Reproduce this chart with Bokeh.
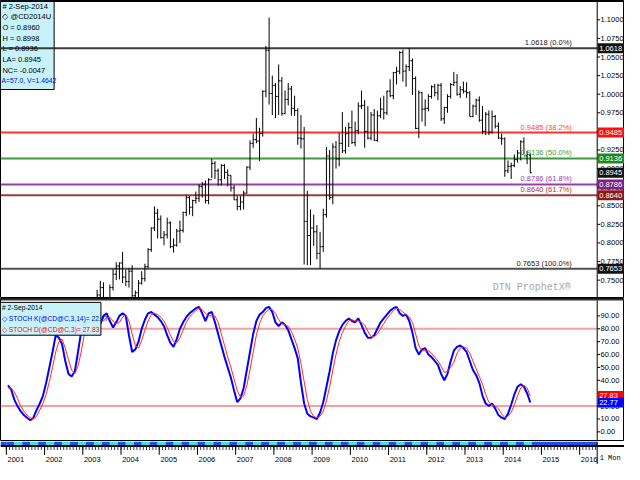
import numpy as np
from bokeh.plotting import figure
from bokeh.models import Range1d, Span
from bokeh.layouts import column
from bokeh.embed import file_html
from bokeh.resources import INLINE
from bokeh.core.properties import value

FONT = "Liberation Sans"
MONO = "Liberation Mono"

# ---------------- data ----------------
price_start_year = 2003  # monthly bars, Jan 2003 .. Sep 2014
price_open = [
    .6340, .6560, .6720, .6800, .6970, .7300, .7400, .7110, .7200, .7400, .7580, .7690,
    .7730, .7540, .7480, .7620, .7290, .7330, .7460, .7520, .7680, .7910, .8200, .8400,
    .8320, .8070, .8110, .8270, .7950, .7970, .8160, .8170, .8410, .8610, .8480, .8570,
    .8600, .8760, .8790, .8570, .8850, .9070, .8970, .8850, .9040, .8950, .8910, .8740,
    .8580, .8490, .8550, .8670, .9020, .9340, .9390, .9370, .9470, 1.0040, 1.0590, 1.0010,
    1.0120, .9970, 1.0180, .9740, .9930, 1.0070, .9810, .9780, .9410, .9400, .8290, .8100,
    .8200, .8150, .7860, .7950, .8380, .9170, .8610, .9290, .9130, .9340, .9240, .9470,
    .9550, .9350, .9510, .9840, .9850, .9500, .9410, .9720, .9380, .9710, .9800, .9750,
    1.0040, .9980, 1.0290, 1.0310, 1.0560, 1.0310, 1.0370, 1.0450, 1.0210, .9540, 1.0020, .9800,
    .9810, .9970, 1.0100, 1.0020, 1.0120, .9670, .9820, .9970, 1.0130, 1.0160, 1.0000, 1.0060,
    1.0040, 1.0020, .9700, .9840, .9920, .9650, .9500, .9730, .9490, .9700, .9570, .9410,
    .9400, .8970, .9030, .9040, .9120, .9210, .9360, .9170, .9180,
]
price_high = [
    .6590, .6740, .6890, .6990, .7370, .7490, .7470, .7240, .7440, .7650, .7740, .7740,
    .7880, .7640, .7660, .7700, .7360, .7500, .7620, .7720, .7930, .8210, .8490, .8460,
    .8370, .8160, .8340, .8290, .8060, .8190, .8300, .8420, .8640, .8630, .8580, .8690,
    .8790, .8820, .8840, .8870, .9130, .9100, .9000, .9060, .9060, .8990, .8910, .8780,
    .8630, .8630, .8700, .9030, .9380, .9470, .9680, .9550, 1.0050, 1.0650, 1.1030, 1.0250,
    1.0150, 1.0400, 1.0230, 1.0050, 1.0150, 1.0110, .9980, .9810, .9720, .9560, .8700, .8450,
    .8380, .8240, .8150, .8460, .9290, .9250, .9340, .9370, .9480, .9760, .9560, .9620,
    .9780, .9630, .9890, 1.0050, .9920, .9840, .9760, .9800, .9780, .9950, .9980, 1.0050,
    1.0200, 1.0300, 1.0370, 1.0580, 1.0600, 1.0400, 1.0618, 1.0480, 1.0240, 1.0050, 1.0030, .9930,
    1.0000, 1.0120, 1.0140, 1.0140, 1.0150, .9830, 1.0000, 1.0150, 1.0300, 1.0270, 1.0110, 1.0170,
    1.0160, 1.0040, .9860, .9940, .9970, .9840, .9760, .9780, .9780, .9720, .9620, .9470,
    .9420, .9110, .9080, .9190, .9250, .9380, .9420, .9240, .9200,
]
price_low = [
    .6320, .6540, .6710, .6740, .6960, .7270, .7080, .7070, .7120, .7360, .7500, .7510,
    .7460, .7420, .7400, .7270, .7160, .7260, .7440, .7480, .7660, .7880, .8160, .8060,
    .8060, .7970, .8060, .7930, .7870, .7950, .8000, .8140, .8360, .8380, .8360, .8530,
    .8550, .8610, .8530, .8520, .8870, .8860, .8770, .8770, .8860, .8760, .8690, .8580,
    .8440, .8440, .8450, .8660, .8980, .9280, .9340, .9100, .9430, .9960, .9860, .9720,
    .9680, .9720, .9710, .9730, .9850, .9710, .9710, .9320, .9270, .7710, .7700, .7700,
    .7960, .7780, .7653, .7880, .8340, .8580, .8520, .9000, .9030, .9210, .9200, .9290,
    .9330, .9300, .9460, .9800, .9280, .9390, .9380, .9370, .9360, .9680, .9660, .9720,
    .9960, .9930, 1.0130, 1.0270, 1.0170, 1.0100, 1.0310, .9990, .9530, .9410, .9630, .9570,
    .9770, .9940, .9970, .9920, .9640, .9600, .9750, .9940, 1.0110, .9980, .9950, 1.0010,
    .9950, .9700, .9690, .9720, .9630, .9460, .9450, .9450, .9470, .9540, .9400, .9320,
    .8890, .8940, .8860, .9020, .9080, .9110, .9190, .9060, .8936,
]
price_close = [
    .6560, .6720, .6800, .6970, .7300, .7400, .7110, .7200, .7400, .7580, .7690, .7730,
    .7540, .7480, .7620, .7290, .7330, .7460, .7520, .7680, .7910, .8200, .8400, .8320,
    .8070, .8110, .8270, .7950, .7970, .8160, .8170, .8410, .8610, .8480, .8570, .8600,
    .8760, .8790, .8570, .8850, .9070, .8970, .8850, .9040, .8950, .8910, .8740, .8580,
    .8490, .8550, .8670, .9020, .9340, .9390, .9370, .9470, 1.0040, 1.0590, 1.0010, 1.0120,
    .9970, 1.0180, .9740, .9930, 1.0070, .9810, .9780, .9410, .9400, .8290, .8100, .8200,
    .8150, .7860, .7950, .8380, .9170, .8610, .9290, .9130, .9340, .9240, .9470, .9550,
    .9350, .9510, .9840, .9850, .9500, .9410, .9720, .9380, .9710, .9800, .9750, 1.0040,
    .9980, 1.0290, 1.0310, 1.0560, 1.0310, 1.0370, 1.0450, 1.0210, .9540, 1.0020, .9800, .9810,
    .9970, 1.0100, 1.0020, 1.0120, .9670, .9820, .9970, 1.0130, 1.0160, 1.0000, 1.0060, 1.0040,
    1.0020, .9700, .9840, .9920, .9650, .9500, .9730, .9490, .9700, .9570, .9410, .9400,
    .8970, .9030, .9040, .9120, .9210, .9360, .9170, .9190, .8945,
]

stoch_start_year = 2001  # monthly, Jan 2001 .. Sep 2014
stoch_k = [
    36, 33, 25, 20, 16, 13, 11, 9, 11, 17, 22, 28,
    38, 50, 62, 75, 73, 68, 55, 45, 43, 47, 62, 78,
    88, 93, 95, 90, 85, 84, 90, 92, 86, 81, 85, 90,
    92, 90, 75, 62, 64, 70, 80, 87, 92, 93, 91, 89,
    86, 82, 75, 69, 66, 72, 80, 85, 89, 92, 94, 96,
    97, 92, 86, 92, 93, 85, 76, 67, 58, 50, 42, 32,
    23, 26, 34, 48, 62, 76, 86, 91, 93, 96, 97, 93,
    85, 82, 85, 83, 79, 72, 65, 57, 38, 22, 14, 12,
    11, 10, 15, 23, 35, 47, 61, 71, 78, 83, 86, 88,
    86, 85, 88, 83, 77, 73, 73, 75, 80, 85, 88, 91,
    94, 96, 97, 92, 90, 91, 86, 77, 65, 60, 64, 65,
    60, 58, 55, 52, 45, 40, 45, 55, 63, 66, 67, 65,
    62, 55, 48, 44, 38, 28, 22, 20, 22, 18, 13, 11,
    10, 14, 21, 29, 35, 37, 35, 30, 22.77,
]
stoch_d = [
    34, 34, 31, 26, 20, 16, 13, 11, 10, 12, 17, 22,
    29, 39, 50, 62, 70, 72, 65, 56, 48, 45, 51, 62,
    76, 86, 92, 93, 90, 86, 86, 89, 89, 86, 84, 85,
    89, 91, 86, 76, 67, 65, 71, 79, 86, 91, 92, 91,
    89, 86, 81, 75, 70, 69, 73, 79, 85, 89, 92, 94,
    96, 95, 92, 90, 90, 90, 85, 76, 67, 58, 50, 41,
    32, 27, 28, 36, 48, 62, 75, 84, 90, 93, 95, 95,
    92, 87, 84, 83, 82, 78, 72, 65, 53, 39, 25, 16,
    12, 11, 12, 16, 24, 35, 48, 60, 70, 77, 82, 86,
    87, 86, 86, 85, 83, 78, 74, 74, 76, 80, 84, 88,
    91, 94, 96, 95, 93, 91, 89, 85, 76, 67, 63, 63,
    63, 61, 58, 55, 51, 46, 47, 50, 54, 61, 65, 66,
    65, 61, 55, 49, 43, 37, 29, 23, 21, 20, 18, 14,
    11, 12, 15, 21, 28, 34, 36, 34, 27.83,
]

fib_levels = [1.0618, 0.9485, 0.9136, 0.8786, 0.8640, 0.7653]
fib_pcts = ["0.0%", "38.2%", "50.0%", "61.8%", "61.7%", "100.0%"]
fib_colors = ["#3c3c3c", "#ff3030", "#3c9a3c", "#9a3cb0", "#a03a3a", "#505050"]
fib_text_colors = ["#202020", "#ff4040", "#3c9a3c", "#9a3cb0", "#a03a3a", "#202020"]
fib_badge_colors = ["#111111", "#ff1010", "#1e8a1e", "#80208a", "#8a1a1a", "#111111"]
last_price = 0.8945
price_ticks = [0.75, 0.775, 0.80, 0.825, 0.85, 0.875, 0.90, 0.925, 0.95, 0.975,
               1.00, 1.025, 1.05, 1.075, 1.10]
stoch_ticks = [0, 10, 20, 30, 40, 50, 60, 70, 80, 90]
stoch_bands = [80, 20]
year_labels = list(range(2001, 2017))

price_legend = ["# 2-Sep-2014", "\u25c7 @CD2014U", "O = 0.8960", "H = 0.8998",
                "L = 0.8936", "LA= 0.8945", "NC= -0.0047"]
price_legend_last = "A=57.0, V=1.4642"
stoch_legend = ["# 2-Sep-2014", "\u25c7 STOCH K(@CD@C,3,14)= 22.77", "\u25c7 STOCH D(@CD@C,3)= 27.83"]
stoch_legend_colors = ["#000000", "#0000ff", "#ff0000"]

# ---------------- layout constants (reference pixel -> data) ----------------
W = 624
X0, X612 = 2000.847, 2016.459
def xref(px):
    return X0 + px / 612.0 * (X612 - X0)
XA = xref(612)          # right edge of plotting area (axis line)
XEND = xref(640)

PY0, PY1 = 0.7253, 1.126
def yp(py):
    return PY1 - py / 308.0 * (PY1 - PY0)
SY0, SY1 = -7.5, 103.5
def ys(py):
    return SY1 - (py - 308) / 148.0 * (SY1 - SY0)

xr = Range1d(X0, XEND)

def base_fig(h, y0, y1):
    f = figure(frame_width=W, frame_height=h, x_range=xr, y_range=Range1d(y0, y1),
               output_backend="svg", toolbar_location=None, x_axis_location=None,
               y_axis_location=None, min_border=0)
    f.grid.visible = False
    f.outline_line_color = "black"
    f.background_fill_color = "white"
    f.border_fill_color = "white"
    return f

def right_axis(fig, ticks, labels, ymid_lo, ymid_hi):
    fig.segment([XA], [ymid_lo], [XA], [ymid_hi], line_color="black", line_width=1)
    fig.segment([XA] * len(ticks), ticks, [xref(615)] * len(ticks), ticks, line_color="black")
    fig.text(x=[xref(615.5)] * len(ticks), y=ticks, text=labels, text_font=value(FONT),
             text_font_size="7.5px", text_color="#000000", text_align="left",
             text_baseline="middle")

def badges(fig, ys_, texts, colors):
    fig.rect(x=[xref(626.5)] * len(ys_), y=ys_, width=27, height=10, width_units="screen",
             height_units="screen", fill_color=colors, line_color=None)
    fig.text(x=[xref(614)] * len(ys_), y=ys_, text=texts, text_font=value(FONT),
             text_font_size="7.5px", text_color="white", text_align="left",
             text_baseline="middle")

# ---------------- price panel ----------------
p1 = base_fig(298, PY0, PY1)
n = len(price_close)
pt = price_start_year + (np.arange(n) + 0.5) / 12.0
w = 0.45 / 12.0

for lvl, c in zip(fib_levels, fib_colors):
    p1.segment([X0], [lvl], [XA], [lvl], line_color=c, line_width=2)

p1.segment(pt, price_high, pt, price_low, line_color="black", line_width=1)
p1.segment(pt - w, price_open, pt, price_open, line_color="black", line_width=1)
p1.segment(pt, price_close, pt + w, price_close, line_color="black", line_width=1)

fib_txt = [f"{v:.4f} ({pct})" for v, pct in zip(fib_levels, fib_pcts)]
p1.text(x=[xref(586)] * len(fib_levels), y=fib_levels, text=fib_txt,
        text_color=fib_text_colors, text_align="right", text_baseline="bottom",
        text_font=value(FONT), text_font_size="7.5px", y_offset=-1)

# legend box (retracement line stays visible across it)
p1.quad(left=[X0], right=[xref(55)], top=[PY1], bottom=[yp(92)],
        fill_color="#c8f2fa", line_color="black", line_width=1, fill_alpha=1.0)
p1.segment([X0], [fib_levels[0]], [xref(55)], [fib_levels[0]], line_color=fib_colors[0], line_width=2)
p1.text(x=[xref(2)] * len(price_legend), y=[yp(6 + 11 * i) for i in range(len(price_legend))],
        text=price_legend, text_font=value(FONT), text_font_size="7.5px",
        text_color="#000000", text_baseline="middle")
p1.text(x=[xref(1)], y=[yp(83)], text=[price_legend_last], text_font=value(FONT),
        text_font_size="6.8px", text_color="#0000ff", text_baseline="middle")

p1.text(x=[xref(585)], y=[yp(297)], text=["DTN ProphetX\u00ae"], text_font=value(MONO),
        text_font_size="10px", text_color="#a8a8a8", text_align="right", text_baseline="middle")

right_axis(p1, price_ticks, [f"{t:.4f}" for t in price_ticks], PY0, PY1)
badges(p1, fib_levels + [last_price], [f"{v:.4f}" for v in fib_levels + [last_price]],
       fib_badge_colors + ["#111111"])
p1.add_layout(Span(location=PY1, dimension="width", line_color="black", line_width=3))

# ---------------- stochastic panel ----------------
p2 = base_fig(143, SY0, SY1)
for b in stoch_bands:
    p2.segment([X0], [b], [XA], [b], line_color="#f4a0a0", line_width=2)

m = len(stoch_k)
st = stoch_start_year + (np.arange(m) + 0.5) / 12.0
p2.line(st, stoch_k, line_color="#0000ff", line_width=2)
p2.line(st, stoch_d, line_color="#ff2a2a", line_width=1)

p2.quad(left=[X0], right=[xref(103)], top=[ys(312)], bottom=[ys(346)],
        fill_color="#c8f2fa", line_color="black", line_width=1)
p2.text(x=[xref(1.5)] * 3, y=[ys(317), ys(329), ys(340)], text=stoch_legend,
        text_font=value(FONT), text_font_size="6.7px", text_color=stoch_legend_colors,
        text_baseline="middle")

right_axis(p2, stoch_ticks, [f"{t:.2f}" for t in stoch_ticks], SY0, SY1)
badges(p2, [stoch_d[-1], stoch_k[-1]], [f"{stoch_d[-1]:.2f}", f"{stoch_k[-1]:.2f}"],
       ["#ff0000", "#0000ff"])
p2.add_layout(Span(location=SY1, dimension="width", line_color="#303030", line_width=4))

# ---------------- time axis strip ----------------
p3 = base_fig(23, 0, 1)
p3.outline_line_color = None
edges = np.arange(2001.0, 2014.80, 2.5 / 12.0)
cols = ["#1e50e6" if k % 2 == 0 else "#30e8e0" for k in range(len(edges) - 1)]
p3.quad(left=edges[:-1], right=edges[1:], top=1.0, bottom=0.83, fill_color=cols, line_color=None)
p3.quad(left=[edges[-1]], right=[XA], top=[1.0], bottom=[0.83], fill_color="#1e50e6", line_color=None)
p3.quad(left=[X0], right=[2001.0], top=[1.0], bottom=[0.83], fill_color="#1e50e6", line_color=None)
p3.segment([X0], [0.80], [XEND], [0.80], line_color="black", line_width=2)
months = np.arange(2001.0, XA, 1 / 12.0)
p3.segment(months, 0.78, months, 0.63, line_color="#404040", line_width=1)
yrs = np.array(year_labels, dtype=float)
p3.segment(yrs, 0.78, yrs, 0.42, line_color="#000000", line_width=1)
p3.segment([XA], [0.0], [XA], [1.0], line_color="black", line_width=1)
p3.text(x=yrs + 0.03, y=[0.1] * len(yrs), text=[str(y) for y in year_labels],
        text_font=value(FONT), text_font_size="7.5px", text_color="#000000",
        text_align="left", text_baseline="bottom")
p3.text(x=[xref(614.5)], y=[0.1], text=["1 Mon"], text_font=value(MONO),
        text_font_size="7px", text_color="#000000", text_baseline="bottom")

layout = column(p1, p2, p3, spacing=0)
open("out.html", "w").write(file_html(layout, INLINE))
